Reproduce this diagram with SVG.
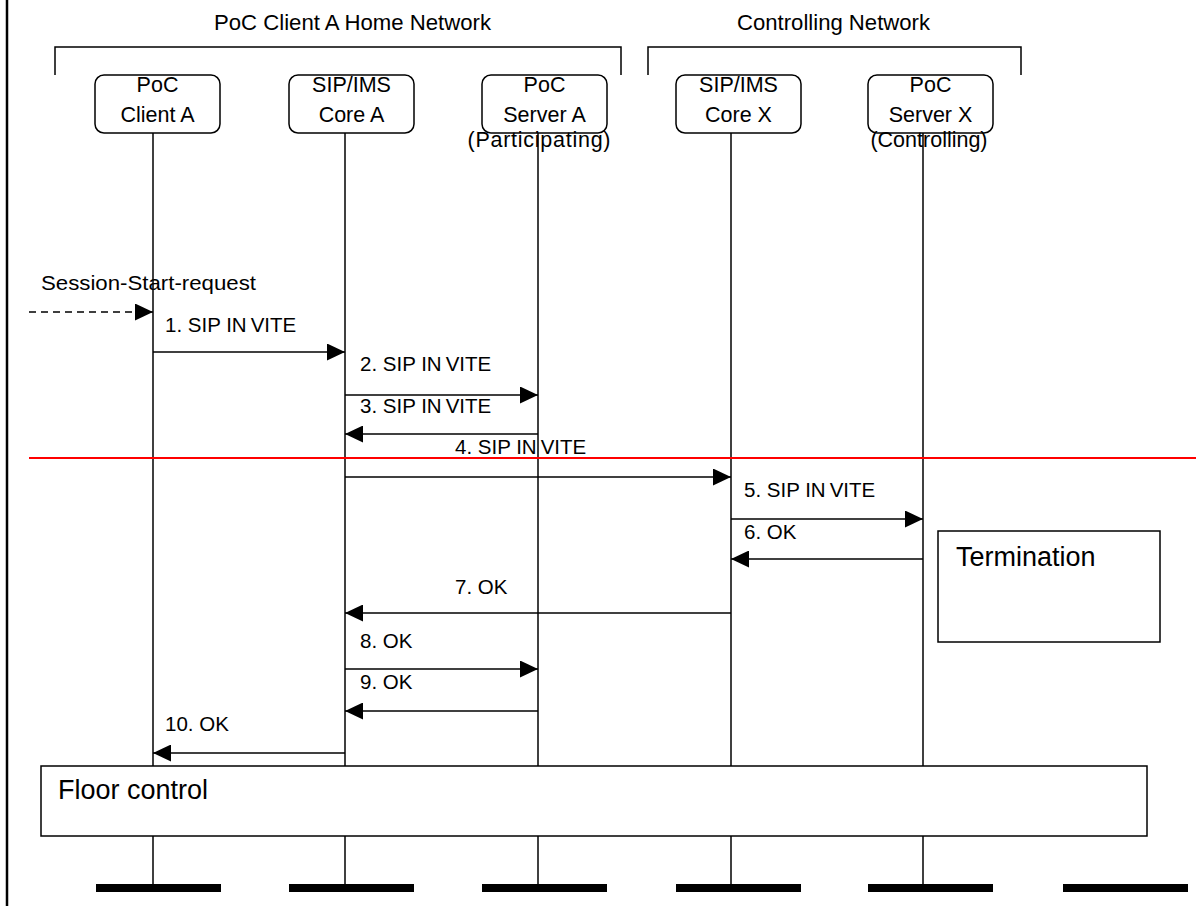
<svg xmlns="http://www.w3.org/2000/svg" width="1196" height="907" viewBox="0 0 1196 907">
  <style>
    .bg { fill: #ffffff; }
    .t { font-family: "Liberation Sans", Arial, sans-serif; fill: #000; }
    .title { font-size: 21.5px; }
    .node { font-size: 21.5px; text-anchor: middle; }
    .lbl { font-size: 20.5px; }
    .big { font-size: 27px; }
    .box { fill: #fff; stroke: #000; stroke-width: 1.5; }
    .bracket { fill: none; stroke: #000; stroke-width: 1.5; }
    .life { stroke: #000; stroke-width: 1.5; }
    .msg { stroke: #000; stroke-width: 1.5; fill: none; marker-end: url(#arrow); }
    .dash { stroke-dasharray: 7 5; }
    .bar { fill: #000; }
  </style>
  <defs>
    <marker id="arrow" markerUnits="userSpaceOnUse" markerWidth="18" markerHeight="17" refX="18" refY="8.5" orient="auto">
      <path d="M0,0 L18,8.5 L0,17 Z" fill="#000"/>
    </marker>
  </defs>

  <rect class="bg" x="0" y="0" width="1196" height="907"/>

  <!-- page border on the left -->
  <line x1="7" y1="0" x2="7" y2="906" stroke="#000" stroke-width="2.5"/>

  <!-- network groupings -->
  <g id="home-network">
    <text class="t title" x="214" y="30" textLength="277" lengthAdjust="spacingAndGlyphs">PoC Client A Home Network</text>
    <path class="bracket" d="M55,75 V47 H621 V75"/>
  </g>
  <g id="controlling-network">
    <text class="t title" x="737" y="30" textLength="193" lengthAdjust="spacingAndGlyphs">Controlling Network</text>
    <path class="bracket" d="M648,75 V47 H1021 V75"/>
  </g>

  <!-- lifelines -->
  <g id="lifelines">
    <line class="life" x1="153" y1="133" x2="153" y2="885"/>
    <line class="life" x1="345" y1="133" x2="345" y2="885"/>
    <line class="life" x1="538" y1="133" x2="538" y2="885"/>
    <line class="life" x1="731" y1="133" x2="731" y2="885"/>
    <line class="life" x1="923" y1="133" x2="923" y2="885"/>
  </g>

  <!-- participants -->
  <g id="poc-client-a">
    <rect class="box" x="95" y="75" width="125" height="58" rx="9"/>
    <text class="t node" x="157.5" y="92">PoC</text>
    <text class="t node" x="157.5" y="122">Client A</text>
  </g>
  <g id="sip-ims-core-a">
    <rect class="box" x="289" y="75" width="125" height="58" rx="9"/>
    <text class="t node" x="351.5" y="92">SIP/IMS</text>
    <text class="t node" x="351.5" y="122">Core A</text>
  </g>
  <g id="poc-server-a">
    <rect class="box" x="482" y="75" width="125" height="58" rx="9"/>
    <text class="t node" x="544.5" y="92">PoC</text>
    <text class="t node" x="544.5" y="122">Server A</text>
    <text class="t node" x="539" y="147" textLength="143" lengthAdjust="spacing">(Participating)</text>
  </g>
  <g id="sip-ims-core-x">
    <rect class="box" x="676" y="75" width="125" height="58" rx="9"/>
    <text class="t node" x="738.5" y="92">SIP/IMS</text>
    <text class="t node" x="738.5" y="122">Core X</text>
  </g>
  <g id="poc-server-x">
    <rect class="box" x="868" y="75" width="125" height="58" rx="9"/>
    <text class="t node" x="930.5" y="92">PoC</text>
    <text class="t node" x="930.5" y="122">Server X</text>
    <text class="t node" x="929" y="147">(Controlling)</text>
  </g>

  <!-- messages -->
  <g id="connectors">
    <line class="msg dash" x1="29" y1="312" x2="153" y2="312"/>
    <line class="msg" x1="153" y1="352" x2="345" y2="352"/>
    <line class="msg" x1="345" y1="395" x2="538" y2="395"/>
    <line class="msg" x1="538" y1="434" x2="345" y2="434"/>
    <line class="msg" x1="345" y1="477" x2="731" y2="477"/>
    <line class="msg" x1="731" y1="519" x2="923" y2="519"/>
    <line class="msg" x1="923" y1="559" x2="731" y2="559"/>
    <line class="msg" x1="731" y1="613" x2="345" y2="613"/>
    <line class="msg" x1="345" y1="669" x2="538" y2="669"/>
    <line class="msg" x1="538" y1="711" x2="345" y2="711"/>
    <line class="msg" x1="345" y1="753" x2="153" y2="753"/>
  </g>

  <g id="message-labels">
    <text class="t lbl" x="41" y="290" textLength="215" lengthAdjust="spacingAndGlyphs">Session-Start-request</text>
    <text class="t lbl" x="165" y="332">1. SIP IN<tspan dx="4">VITE</tspan></text>
    <text class="t lbl" x="360" y="371">2. SIP IN<tspan dx="4">VITE</tspan></text>
    <text class="t lbl" x="360" y="413">3. SIP IN<tspan dx="4">VITE</tspan></text>
    <text class="t lbl" x="455" y="454">4. SIP IN<tspan dx="4">VITE</tspan></text>
    <text class="t lbl" x="744" y="497">5. SIP IN<tspan dx="4">VITE</tspan></text>
    <text class="t lbl" x="744" y="539">6. OK</text>
    <text class="t lbl" x="455" y="594">7. OK</text>
    <text class="t lbl" x="360" y="648">8. OK</text>
    <text class="t lbl" x="360" y="689">9. OK</text>
    <text class="t lbl" x="165" y="731">10. OK</text>
  </g>

  <!-- separator -->
  <line id="separator" x1="29" y1="458" x2="1196" y2="458" stroke="#ff0000" stroke-width="2"/>

  <g id="termination">
    <rect class="box" x="938" y="531" width="222" height="111"/>
    <text class="t big" x="956" y="566">Termination</text>
  </g>

  <g id="floor-control">
    <rect class="box" x="41" y="766" width="1106" height="70"/>
    <text class="t big" x="58" y="799">Floor control</text>
  </g>

  <!-- lifeline end bars -->
  <g id="end-bars">
    <rect class="bar" x="96" y="884" width="125" height="8"/>
    <rect class="bar" x="289" y="884" width="125" height="8"/>
    <rect class="bar" x="482" y="884" width="125" height="8"/>
    <rect class="bar" x="676" y="884" width="125" height="8"/>
    <rect class="bar" x="868" y="884" width="125" height="8"/>
    <rect class="bar" x="1063" y="884" width="125" height="8"/>
  </g>
</svg>
